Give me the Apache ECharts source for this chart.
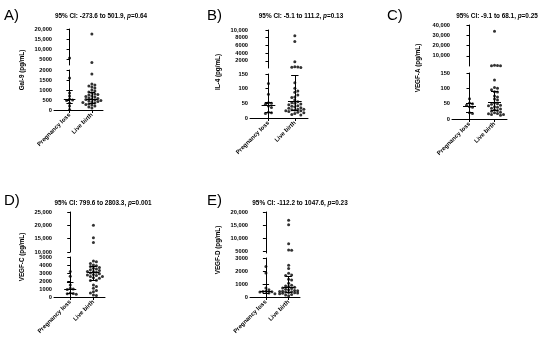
<!DOCTYPE html>
<html><head><meta charset="utf-8">
<script src="https://cdn.jsdelivr.net/npm/echarts@6/dist/echarts.min.js"></script>
<style>html,body{margin:0;padding:0;background:#fff}#c{width:550px;height:342px}</style>
</head><body><div id="c"></div>
<script>
// ---------- DATA ----------
const groups = ['Pregnancy loss', 'Live birth'];

// A) Gal-9
const gal9Loss  = [5500, 1600, 850, 700, 550, 500, 480, 350, 200, 30];
const gal9Birth = [17500, 3300, 1800, 1300, 1250, 1200, 1150, 1100, 1000, 950, 900, 850, 800, 780, 750, 700, 680, 650, 600, 580, 550, 520, 500, 480, 450, 420, 400, 380, 350, 300, 280, 250, 200, 150, 100];
const gal9Median = [520, 560], gal9Q1 = [330, 320], gal9Q3 = [1000, 900];
const gal9LowRange = [0, 2000], gal9HighRange = [2000, 20000];
const gal9LowTicks = [0, 500, 1000, 1500, 2000], gal9HighTicks = [5000, 10000, 15000, 20000];

// B) IL-4
const il4Loss  = [118, 81, 52, 50, 47, 41, 36, 20, 18, 15];
const il4Birth = [8500, 7000, 1800, 500, 420, 350, 300, 120, 101, 92, 88, 78, 72, 70, 61, 55, 52, 50, 48, 45, 42, 40, 38, 35, 33, 30, 30, 28, 27, 25, 25, 22, 20, 18, 15, 12, 10];
const il4Median = [43, 58], il4Q1 = [19, 28], il4Q3 = [52, 145];
const il4LowRange = [0, 150], il4HighRange = [150, 10000];
const il4LowTicks = [0, 50, 100, 150], il4HighTicks = [2000, 4000, 6000, 8000, 10000];

// C) VEGF-A
const vegfaLoss  = [66, 52, 50, 45, 40, 38, 20, 18];
const vegfaBirth = [34000, 1000, 700, 500, 300, 127, 103, 100, 95, 89, 88, 75, 72, 65, 62, 52, 50, 48, 45, 43, 40, 38, 35, 33, 30, 28, 25, 22, 20, 18, 17, 15, 15, 12];
const vegfaMedian = [42, 54], vegfaQ1 = [22, 28], vegfaQ3 = [52, 90];
const vegfaLowRange = [0, 150], vegfaHighRange = [150, 40000];
const vegfaLowTicks = [0, 50, 100, 150], vegfaHighTicks = [10000, 20000, 30000, 40000];

// D) VEGF-C
const vegfcLoss  = [3200, 2600, 1500, 1100, 1000, 950, 500, 450, 400, 350];
const vegfcBirth = [20000, 15300, 13600, 4500, 4400, 4200, 4000, 3900, 3800, 3700, 3600, 3500, 3400, 3300, 3200, 3200, 3100, 3000, 2900, 2800, 2750, 2700, 2550, 2550, 2400, 2350, 2100, 2050, 1500, 1300, 1100, 800, 660, 500, 250, 200];
const vegfcMedian = [1000, 3100], vegfcQ1 = [450, 2100], vegfcQ3 = [1900, 3800];
const vegfcLowRange = [0, 5000], vegfcHighRange = [10000, 25000];
const vegfcLowTicks = [0, 1000, 2000, 3000, 4000, 5000], vegfcHighTicks = [10000, 15000, 20000, 25000];

// E) VEGF-D
const vegfdLoss  = [2350, 1850, 700, 550, 450, 420, 400, 380, 300, 250];
const vegfdBirth = [16900, 15200, 8000, 5650, 5500, 2450, 2200, 1820, 1700, 1650, 1360, 1300, 1050, 900, 850, 800, 750, 700, 650, 600, 550, 500, 480, 450, 420, 400, 380, 350, 320, 300, 280, 250, 200, 150, 100];
const vegfdMedian = [410, 720], vegfdQ1 = [300, 350], vegfdQ3 = [950, 1600];
const vegfdLowRange = [0, 3000], vegfdHighRange = [4500, 20000];
const vegfdLowTicks = [0, 1000, 2000, 3000], vegfdHighTicks = [5000, 10000, 15000, 20000];

// ---------- PANELS ----------
const panels = [
  {letter:'A)', yName:'Gal-9 (pg/mL)', ci:'95% CI: -273.6 to 501.9, ', p:'=0.64',
   series:[gal9Loss, gal9Birth], median:gal9Median, q1:gal9Q1, q3:gal9Q3,
   low:gal9LowRange, high:gal9HighRange, lowTicks:gal9LowTicks, highTicks:gal9HighTicks,
   L:{left:54, width:49, lowTop:70, lowH:40, highTop:29, highH:36, nameX:22, nameY:70, tx:101, ty:16, lx:4, ly:8}},
  {letter:'B)', yName:'IL-4 (pg/mL)', ci:'95% CI: -5.1 to 111.2, ', p:'=0.13',
   series:[il4Loss, il4Birth], median:il4Median, q1:il4Q1, q3:il4Q3,
   low:il4LowRange, high:il4HighRange, lowTicks:il4LowTicks, highTicks:il4HighTicks,
   L:{left:250, width:58, lowTop:74, lowH:44, highTop:30, highH:38, nameX:218, nameY:72, tx:301, ty:16, lx:207, ly:8}},
  {letter:'C)', yName:'VEGF-A (pg/mL)', ci:'95% CI: -9.1 to 68.1, ', p:'=0.25',
   series:[vegfaLoss, vegfaBirth], median:vegfaMedian, q1:vegfaQ1, q3:vegfaQ3,
   low:vegfaLowRange, high:vegfaHighRange, lowTicks:vegfaLowTicks, highTicks:vegfaHighTicks,
   L:{left:452, width:55, lowTop:73, lowH:46, highTop:25, highH:41, nameX:418, nameY:68, tx:497, ty:16, lx:387, ly:8}},
  {letter:'D)', yName:'VEGF-C (pg/mL)', ci:'95% CI: 799.6 to 2803.3, ', p:'=0.001',
   series:[vegfcLoss, vegfcBirth], median:vegfcMedian, q1:vegfcQ1, q3:vegfcQ3,
   low:vegfcLowRange, high:vegfcHighRange, lowTicks:vegfcLowTicks, highTicks:vegfcHighTicks,
   L:{left:54, width:51, lowTop:257, lowH:40, highTop:212, highH:40, nameX:22, nameY:257, tx:103, ty:203, lx:4, ly:193}},
  {letter:'E)', yName:'VEGF-D (pg/mL)', ci:'95% CI: -112.2 to 1047.6, ', p:'=0.23',
   series:[vegfdLoss, vegfdBirth], median:vegfdMedian, q1:vegfdQ1, q3:vegfdQ3,
   low:vegfdLowRange, high:vegfdHighRange, lowTicks:vegfdLowTicks, highTicks:vegfdHighTicks,
   L:{left:250, width:50, lowTop:258, lowH:39, highTop:212, highH:41, nameX:218, nameY:250, tx:300, ty:203, lx:207, ly:193}}
];

const FONT = 'Liberation Sans, Arial, sans-serif';
const X_MIN = -0.7, X_MAX = 1.5;
const fmt = v => v >= 10000 ? v.toLocaleString('en-US') : String(v);

// deterministic beeswarm layout (offsets in axis units)
function swarm(values, p, g) {
  const L = p.L, pxPerUnit = L.width / (X_MAX - X_MIN), STEP = 3, DIST = 3, MAXK = 3;
  const placed = [];
  const res = values.map(() => null);
  const order = values.map((v, i) => i).sort((a, b) => values[b] - values[a]);
  order.forEach(i => {
    const v = values[i];
    const inHigh = v > p.low[1];
    const r = inHigh ? p.high : p.low, h = inHigh ? L.highH : L.lowH;
    const py = (v - r[0]) / (r[1] - r[0]) * h + (inHigh ? 10000 : 0);
    let best = 0, bestD = -1;
    for (let k = 0; k <= MAXK * 2; k++) {
      const off = k === 0 ? 0 : (k % 2 ? 1 : -1) * Math.ceil(k / 2);
      const ox = off * STEP;
      let md = Infinity;
      placed.forEach(q => { md = Math.min(md, Math.hypot(q.x - ox, q.y - py)); });
      if (md >= DIST) { best = ox; bestD = md; break; }
      if (md > bestD) { bestD = md; best = ox; }
    }
    placed.push({x: best, y: py});
    res[i] = {x: g + best / pxPerUnit, v: v, high: inHigh};
  });
  return res;
}

const grid = [], xAxis = [], yAxis = [], series = [], graphic = [];
const axisCommon = {
  axisLine: {show: true, lineStyle: {color: '#000', width: 1}},
  splitLine: {show: false}
};

panels.forEach((p, pi) => {
  const L = p.L;
  const gLow = grid.length;
  grid.push({left: L.left, top: L.lowTop, width: L.width, height: L.lowH, outerBoundsMode: 'none', containLabel: false});
  const gHigh = grid.length;
  grid.push({left: L.left, top: L.highTop, width: L.width, height: L.highH, outerBoundsMode: 'none', containLabel: false});

  xAxis.push(Object.assign({}, axisCommon, {
    type: 'value', gridIndex: gLow, min: X_MIN, max: X_MAX,
    axisTick: {show: true, length: 3, customValues: [0, 1], lineStyle: {color: '#000'}},
    axisLabel: {customValues: [0, 1], formatter: v => groups[Math.round(v)], rotate: 45, margin: 4,
                fontSize: 6, fontWeight: 'bold', color: '#000', fontFamily: FONT}
  }));
  xAxis.push({type: 'value', gridIndex: gHigh, min: X_MIN, max: X_MAX, show: false});

  yAxis.push(Object.assign({}, axisCommon, {
    type: 'value', gridIndex: gLow, min: p.low[0], max: p.low[1],
    axisTick: {show: true, length: 3, customValues: p.lowTicks, lineStyle: {color: '#000'}},
    axisLabel: {customValues: p.lowTicks, formatter: fmt, margin: 2, fontSize: 5.7, fontWeight: 'bold', color: '#000', fontFamily: FONT}
  }));
  yAxis.push(Object.assign({}, axisCommon, {
    type: 'value', gridIndex: gHigh, min: p.high[0], max: p.high[1],
    axisTick: {show: true, length: 3, customValues: p.highTicks, lineStyle: {color: '#000'}},
    axisLabel: {customValues: p.highTicks, formatter: fmt, margin: 2, fontSize: 5.7, fontWeight: 'bold', color: '#000', fontFamily: FONT}
  }));

  const lowPts = [], highPts = [];
  p.series.forEach((vals, g) => {
    swarm(vals, p, g).forEach(d => (d.high ? highPts : lowPts).push([d.x, d.v]));
  });
  const sc = {type: 'scatter', symbol: 'circle', symbolSize: 3, itemStyle: {color: '#000'}, silent: true, animation: false};
  series.push(Object.assign({}, sc, {xAxisIndex: gLow, yAxisIndex: gLow, data: lowPts}));
  series.push(Object.assign({}, sc, {xAxisIndex: gHigh, yAxisIndex: gHigh, data: highPts}));

  // median + interquartile range
  const segs = [];
  groups.forEach((_, g) => {
    segs.push({coords: [[g - 0.26, p.median[g]], [g + 0.26, p.median[g]]]});
    segs.push({coords: [[g, p.q1[g]], [g, p.q3[g]]]});
    segs.push({coords: [[g - 0.14, p.q1[g]], [g + 0.14, p.q1[g]]]});
    segs.push({coords: [[g - 0.14, p.q3[g]], [g + 0.14, p.q3[g]]]});
  });
  series.push({type: 'lines', coordinateSystem: 'cartesian2d', xAxisIndex: gLow, yAxisIndex: gLow,
    lineStyle: {color: '#000', width: 1, opacity: 1}, data: segs, silent: true, animation: false});

  graphic.push({type: 'text', x: L.lx, y: L.ly, style: {text: p.letter, font: '15px ' + FONT, fill: '#000'}});
  graphic.push({type: 'text', x: L.tx, y: L.ty, style: {
    text: '{b|' + p.ci + '}{i|p}{b|' + p.p + '}', align: 'center', verticalAlign: 'middle',
    rich: {b: {font: 'bold 6.4px ' + FONT, fill: '#000'}, i: {font: 'italic bold 6.4px ' + FONT, fill: '#000'}}}});
  graphic.push({type: 'text', x: L.nameX, y: L.nameY, rotation: Math.PI / 2, style: {
    text: p.yName, align: 'center', verticalAlign: 'middle', font: 'bold 6.3px ' + FONT, fill: '#000'}});
});

const chart = echarts.init(document.getElementById('c'), null, {renderer: 'canvas'});
chart.setOption({backgroundColor: '#fff', animation: false, grid, xAxis, yAxis, series, graphic});
</script></body></html>
